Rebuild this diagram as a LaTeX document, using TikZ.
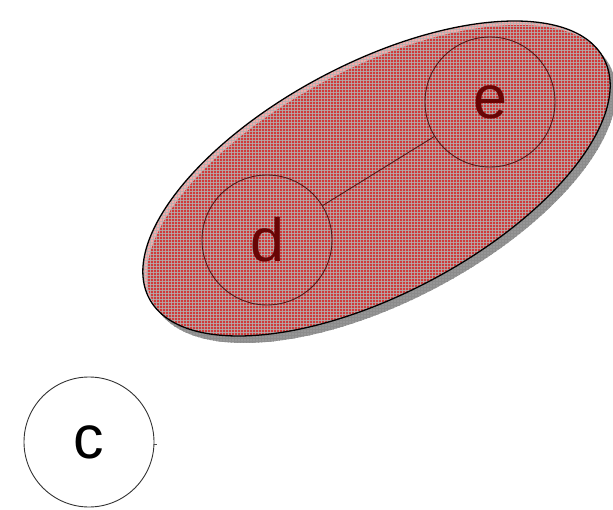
\documentclass[tikz,border=0pt]{standalone}
\usepackage{fontspec}
\setmainfont{Liberation Sans}
\usetikzlibrary{patterns}
\definecolor{blobred}{RGB}{208,58,58}
\definecolor{blobpink}{RGB}{245,170,170}
\definecolor{shadowgray}{RGB}{150,150,150}
\definecolor{innerline}{RGB}{80,25,25}
\definecolor{lettered}{RGB}{105,5,5}
\tikzset{
  member/.style={circle, minimum size=130pt, inner sep=0pt, draw=innerline, line width=0.9pt,
    text=lettered, font=\fontsize{61}{61}\selectfont},
  single/.style={circle, minimum size=130pt, inner sep=0pt, draw=black!80, line width=0.9pt,
    text=black, font=\fontsize{61}{61}\selectfont},
  link/.style={draw=innerline, line width=0.9pt}
}
\begin{document}
\begin{tikzpicture}[x=1pt,y=1pt]
\useasboundingbox (0,0) rectangle (613,509);
% shadow
\fill[shadowgray] (382.5,323.5) ellipse[x radius=257, y radius=115.5, rotate=27.8];
\fill[pattern=grid, pattern color=black!45] (382.5,323.5) ellipse[x radius=257, y radius=115.5, rotate=27.8];
% blob with highlight
\begin{scope}
  \clip (376.5,330.5) ellipse[x radius=257, y radius=115.5, rotate=27.8];
  \fill[blobpink] (376.5,330.5) ellipse[x radius=257, y radius=115.5, rotate=27.8];
  \fill[blobred] (380.5,326.5) ellipse[x radius=257, y radius=115.5, rotate=27.8];
  \fill[pattern=grid, pattern color=black!30, opacity=0.8] (376.5,330.5) ellipse[x radius=257, y radius=115.5, rotate=27.8];
\end{scope}
\draw[black, line width=1.3pt] (376.5,330.5) ellipse[x radius=257, y radius=115.5, rotate=27.8];
% nodes
\node[member] (d) at (267,269) {d};
\node[member] (e) at (490,407) {e};
\draw[link] (d) -- (e);
\node[single] (c) at (89,67) {c};
\coordinate (cstub) at (157,65);
\draw[black!70, line width=0.6pt] (c.east) ++(0,-2) -- (cstub);
\end{tikzpicture}
\end{document}
